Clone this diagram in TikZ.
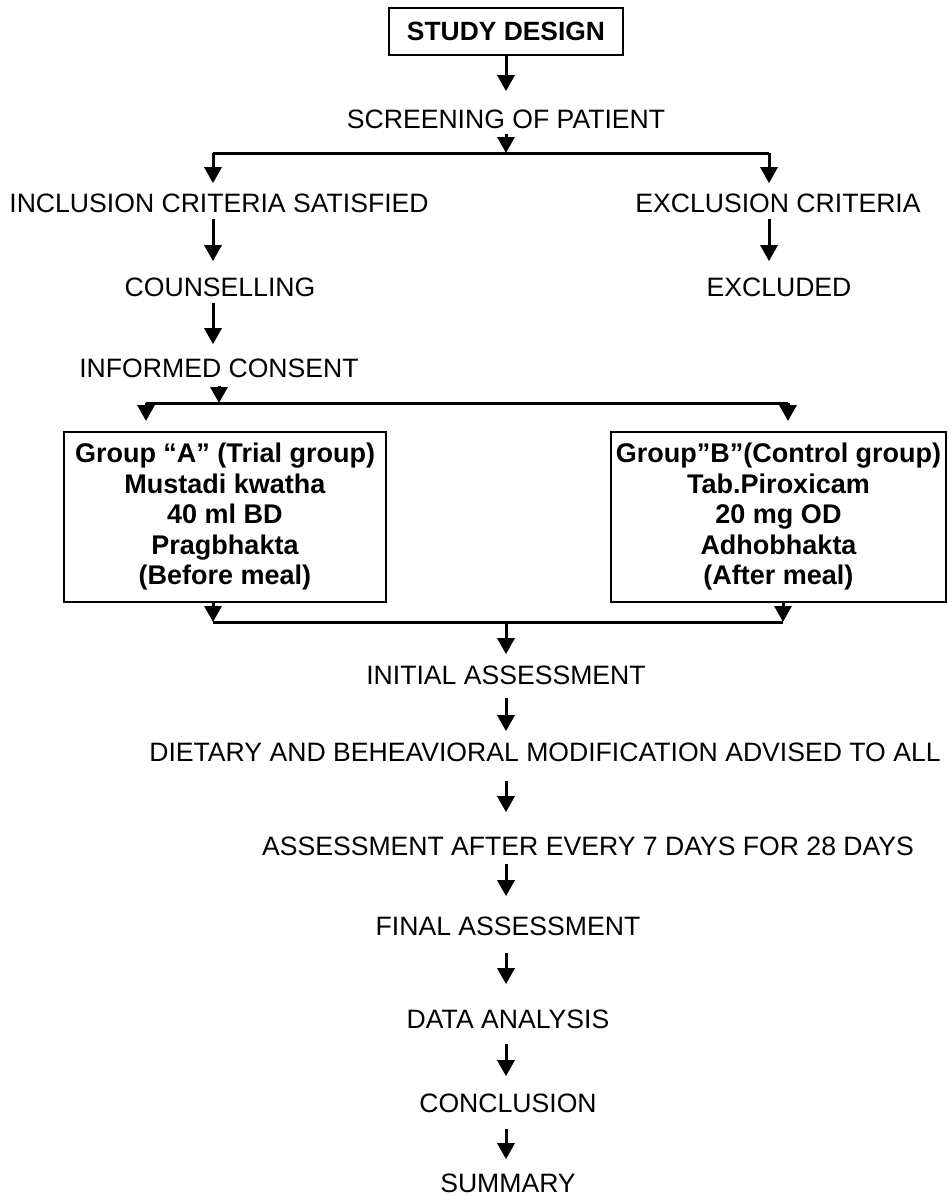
\documentclass[tikz,border=0pt]{standalone}
\usepackage{fontspec}
\setmainfont{Liberation Sans}
\usetikzlibrary{arrows.meta,positioning}

\begin{document}
\begin{tikzpicture}[
  x=0.5pt, y=-0.5pt,
  stage/.style={inner sep=0pt, font=\fontsize{13.3}{15}\selectfont},
  title/.style={rectangle, draw, line width=1pt, minimum width=117pt, minimum height=23.5pt,
    inner sep=0pt, font=\fontsize{13.2}{15}\selectfont\bfseries},
  grp/.style={rectangle, draw, line width=1pt, align=center, minimum height=85pt,
    inner sep=0pt, font=\fontsize{13.5}{15.25}\selectfont\bfseries},
  arr/.style={-{Triangle[length=8pt,width=8.5pt]}, line width=1.5pt},
  bar/.style={line width=1.5pt},
  gaps/.style 2 args={shorten <=#1, shorten >=#2},
]
  \useasboundingbox (0,0) rectangle (949,1196);

  \node[title] (design) at (506,31.5) {STUDY DESIGN};
  \node[stage] (screen) at (506,119) {SCREENING OF PATIENT};
  \node[stage] (incl) at (219,203) {INCLUSION CRITERIA SATISFIED};
  \node[stage] (excl) at (778,203) {EXCLUSION CRITERIA};
  \node[stage] (couns) at (220,287) {COUNSELLING};
  \node[stage] (excluded) at (779,287) {EXCLUDED};
  \node[stage] (consent) at (219,368) {INFORMED CONSENT};

  \node[grp, minimum width=161pt] (grpA) at (225,517)
    {Group “A” (Trial group)\\Mustadi kwatha\\40 ml BD\\Pragbhakta\\(Before meal)};
  \node[grp, minimum width=167.5pt] (grpB) at (778.5,517)
    {Group”B”(Control group)\\Tab.Piroxicam\\20 mg OD\\Adhobhakta\\(After meal)};

  \node[stage] (initial) at (506,675) {INITIAL ASSESSMENT};
  \node[stage] (diet) at (545,752) {DIETARY AND BEHEAVIORAL MODIFICATION ADVISED TO ALL};
  \node[stage] (assess) at (588,846) {ASSESSMENT AFTER EVERY 7 DAYS FOR 28 DAYS};
  \node[stage] (final) at (508,926) {FINAL ASSESSMENT};
  \node[stage] (data) at (508,1019) {DATA ANALYSIS};
  \node[stage] (concl) at (508,1103) {CONCLUSION};
  \node[stage] (summary) at (508,1183) {SUMMARY};

  % branch and merge points
  \coordinate (s1l) at (213,153);
  \coordinate (s1c) at (506,153);
  \coordinate (s1r) at (769,153);
  \coordinate (s2l) at (146,403);
  \coordinate (s2r) at (788,403);
  \coordinate (m1l) at (213,622);
  \coordinate (m1c) at (506,622);
  \coordinate (m1r) at (783,622);

  \draw[bar] (s1l) -- (s1r);
  \draw[bar] (s2l) -- (s2r);
  \draw[bar] (m1l) -- (m1r);

  \draw[arr, gaps={0pt}{9pt}] (design) -- (screen);
  \draw[arr, gaps={2.5pt}{0pt}] (screen) -- (s1c);
  \draw[arr, gaps={0pt}{5pt}] (s1l) -- (s1l |- incl.north);
  \draw[arr, gaps={0pt}{5pt}] (s1r) -- (s1r |- excl.north);
  \draw[arr, gaps={3pt}{8pt}] (incl.south -| s1l) -- (couns.north -| s1l);
  \draw[arr, gaps={3pt}{8pt}] (excl.south -| s1r) -- (excluded.north -| s1r);
  \draw[arr, gaps={3pt}{7pt}] (couns.south -| s1l) -- (consent.north -| s1l);
  \draw[arr, gaps={4pt}{0pt}] (consent) -- (consent |- s2l);
  \draw[arr, gaps={0pt}{5pt}] (s2l) -- (s2l |- grpA.north);
  \draw[arr, gaps={0pt}{5pt}] (s2r) -- (s2r |- grpB.north);
  \draw[arr] (grpA.south -| m1l) -- (m1l);
  \draw[arr] (grpB.south -| m1r) -- (m1r);
  \draw[arr, gaps={0pt}{5.5pt}] (m1c) -- (initial);
  \draw[arr, gaps={6.5pt}{5.5pt}] (initial.south) -- (diet.north -| initial);
  \draw[arr, gaps={9.5pt}{12pt}] (diet.south -| initial) -- (assess.north -| initial);
  \draw[arr, gaps={4pt}{10pt}] (assess.south -| initial) -- (final.north -| initial);
  \draw[arr, gaps={8.5pt}{12.5pt}] (final.south -| initial) -- (data.north -| initial);
  \draw[arr, gaps={7.5pt}{8.5pt}] (data.south -| initial) -- (concl.north -| initial);
  \draw[arr, gaps={8pt}{7pt}] (concl.south -| initial) -- (summary.north -| initial);
\end{tikzpicture}
\end{document}
